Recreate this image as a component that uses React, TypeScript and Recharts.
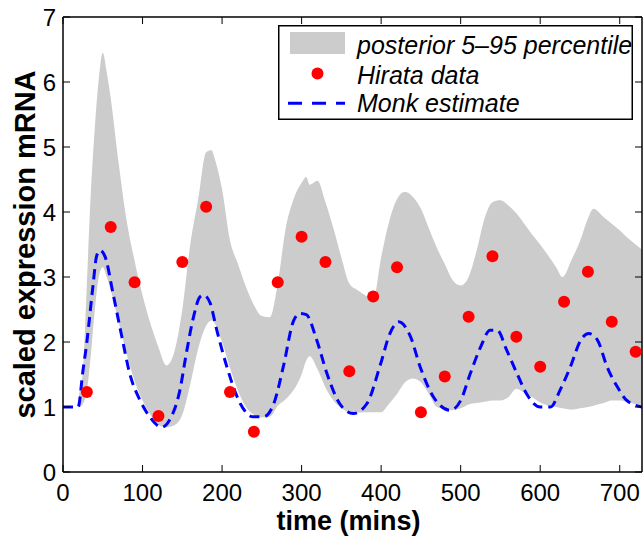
import React from 'react';
import {
    ComposedChart,
    Area,
    Line,
    Scatter,
    XAxis,
    YAxis,
    Legend,
    Label,
} from 'recharts';

const FONT = '"Liberation Sans", Arial, Helvetica, sans-serif';

const xTicks = [0, 100, 200, 300, 400, 500, 600, 700];
const yTicks = [0, 1, 2, 3, 4, 5, 6, 7];

// posterior 5-95 percentile band
const bandTime = [
    19, 20, 25, 30, 35, 40, 45, 50, 55, 60,
    70, 80, 90, 100, 110, 120, 130, 140, 150, 160,
    170, 180, 187, 190, 200, 210, 220, 230, 240, 250,
    260, 270, 280, 290, 300, 306, 310, 320, 330, 340,
    350, 360, 370, 380, 390, 400, 410, 420, 430, 440,
    450, 460, 470, 480, 490, 500, 510, 520, 530, 540,
    550, 560, 570, 580, 590, 600, 610, 620, 628, 640,
    650, 660, 667, 680, 690, 700, 710, 720, 728,
];
const bandLow = [
    1.0, 1.0, 1.05, 1.25, 1.8, 2.5, 3.0, 3.15, 3.0, 2.8,
    2.3, 1.82, 1.4, 1.1, 0.88, 0.72, 0.69, 0.72, 0.88, 1.35,
    1.9, 2.25, 2.33, 2.3, 2.0, 1.6, 1.25, 1.0, 0.88, 0.84,
    0.85, 1.02, 1.12, 1.26, 1.5, 1.72, 1.78, 1.58, 1.3, 1.1,
    0.98, 0.92, 0.91, 0.92, 0.92, 0.92, 1.05, 1.2, 1.38, 1.44,
    1.38, 1.2, 1.0, 0.97, 0.95, 0.98, 1.04, 1.06, 1.08, 1.1,
    1.1, 1.15, 1.28, 1.22, 1.15, 1.07, 1.02, 1.0, 0.98, 0.96,
    0.98, 1.0, 1.02, 1.06, 1.1, 1.1, 1.08, 1.04, 1.0,
];
const bandHigh = [
    1.0, 1.15, 1.55, 2.9, 4.3, 5.3, 6.05, 6.45, 6.15, 5.75,
    4.75, 3.87, 3.25, 2.72, 2.28, 1.92, 1.64, 1.85, 2.5, 3.5,
    4.2, 4.92, 4.95, 4.85, 4.35, 3.56, 3.2, 2.85, 2.57, 2.4,
    2.38, 2.9, 3.75, 4.2, 4.45, 4.54, 4.42, 4.48, 4.15, 3.75,
    3.3, 2.9, 2.8, 2.72, 2.65, 3.3, 3.85, 4.2, 4.31, 4.23,
    4.05, 3.75, 3.45, 3.2, 2.95, 2.87, 3.0, 3.4, 3.9, 4.15,
    4.18, 4.1, 3.98, 3.82, 3.65, 3.5, 3.33, 3.15, 3.0, 3.28,
    3.55, 3.9, 4.05, 3.92, 3.82, 3.72, 3.6, 3.5, 3.42,
];

// Monk estimate
const monkTime = [
    0, 19, 25, 30, 38, 42, 46, 50, 53, 63,
    74, 84, 97, 109, 124, 134, 147, 155, 164, 172,
    177, 185, 193, 206, 223, 239, 252, 265, 277, 290,
    298, 306, 319, 332, 348, 365, 382, 399, 411, 422,
    437, 449, 466, 487, 500, 512, 525, 537, 546, 558,
    571, 583, 600, 613, 625, 638, 651, 661, 672, 684,
    697, 709, 728,
];
const monkValue = [
    1.0, 1.0, 1.55, 2.0, 2.9, 3.31, 3.41, 3.38, 3.31, 2.74,
    2.08, 1.51, 1.1, 0.85, 0.69, 0.8, 1.26, 1.82, 2.38, 2.69,
    2.72, 2.6, 2.2, 1.62, 1.05, 0.85, 0.85, 1.05, 1.62, 2.33,
    2.44, 2.42, 2.03, 1.51, 1.05, 0.9, 1.05, 1.65, 2.13, 2.31,
    2.08, 1.62, 1.15, 0.95, 1.1, 1.51, 1.92, 2.18, 2.18, 1.87,
    1.51, 1.2, 1.0, 1.0, 1.26, 1.62, 2.03, 2.13, 2.03, 1.62,
    1.31, 1.1, 1.0,
];

// Hirata data
const hirataTime = [
    30, 60, 90, 120, 150, 180, 210, 240, 270, 300, 330, 360,
    390, 420, 450, 480, 510, 540, 570, 600, 630, 660, 690, 720,
];
const hirataValue = [
    1.23, 3.77, 2.92, 0.86, 3.23, 4.08, 1.23, 0.62, 2.92, 3.62, 3.23, 1.55,
    2.7, 3.15, 0.92, 1.47, 2.39, 3.32, 2.08, 1.62, 2.62, 3.08, 2.31, 1.85,
];

const bandData = bandTime.map((t, i) => ({ t, range: [bandLow[i], bandHigh[i]] }));
const monkData = monkTime.map((t, i) => ({ t, v: monkValue[i] }));
const hirataData = hirataTime.map((t, i) => ({ t, v: hirataValue[i] }));

const BottomTick = ({ x, y, payload }: any) => (
    <g>
        <line x1={x} y1={y} x2={x} y2={y - 7} stroke="#000" />
        <text x={x} y={y + 29} textAnchor="middle" fontSize={24} fontFamily={FONT} fill="#000">
            {payload.value}
        </text>
    </g>
);

const TopTick = ({ x, y }: any) => (
    <line x1={x} y1={y} x2={x} y2={y + 7} stroke="#000" />
);

const LeftTick = ({ x, y, payload }: any) => (
    <g>
        <line x1={x} y1={y} x2={x + 7} y2={y} stroke="#000" />
        <text x={x - 7} y={y + 8.6} textAnchor="end" fontSize={24} fontFamily={FONT} fill="#000">
            {payload.value}
        </text>
    </g>
);

const RightTick = ({ x, y }: any) => (
    <line x1={x} y1={y} x2={x - 7} y2={y} stroke="#000" />
);

const XTitle = ({ viewBox }: any) => (
    <text
        x={viewBox.x + viewBox.width / 2 - 4}
        y={viewBox.y + 58}
        textAnchor="middle"
        fontSize={27}
        fontWeight="bold"
        fontFamily={FONT}
        fill="#000"
    >
        time (mins)
    </text>
);

const YTitle = ({ viewBox }: any) => (
    <text
        transform={`translate(${viewBox.x + 35}, ${viewBox.y + viewBox.height / 2}) rotate(-90)`}
        textAnchor="middle"
        fontSize={29}
        fontWeight="bold"
        fontFamily={FONT}
        fill="#000"
    >
        scaled expression mRNA
    </text>
);

const renderLegend = () => (
    <svg width={355} height={95} style={{ display: 'block' }}>
        <rect x={0.75} y={0.75} width={353.5} height={93.5} fill="#fff" stroke="#000" strokeWidth={1.5} />
        <rect x={12} y={7} width={55} height={22} fill="#cccccc" />
        <circle cx={39.5} cy={48.5} r={6} fill="#ff0000" />
        <line x1={10} y1={78.3} x2={67} y2={78.3} stroke="#0000ff" strokeWidth={3} strokeDasharray="14 10" />
        <g fontFamily={FONT} fontSize={25} fontStyle="italic" fill="#000">
            <text x={79} y={28.5}>posterior 5–95 percentile</text>
            <text x={79} y={58.5}>Hirata data</text>
            <text x={79} y={86.7}>Monk estimate</text>
        </g>
    </svg>
);

const App: React.FC = () => (
    <div style={{ position: 'absolute', left: 0, top: 0, background: '#fff' }}>
        <ComposedChart width={643} height={538} margin={{ top: 0, right: 0, bottom: 0, left: 0 }}>
            <XAxis
                dataKey="t"
                type="number"
                domain={[0, 728]}
                ticks={xTicks}
                interval={0}
                allowDataOverflow
                height={66}
                tickSize={0}
                tickMargin={0}
                tickLine={false}
                tick={BottomTick}
                axisLine={{ stroke: '#000', strokeWidth: 1.5 }}
            >
                <Label content={XTitle} />
            </XAxis>
            <XAxis
                xAxisId="top"
                orientation="top"
                dataKey="t"
                type="number"
                domain={[0, 728]}
                ticks={xTicks}
                interval={0}
                allowDataOverflow
                height={17}
                tickSize={0}
                tickMargin={0}
                tickLine={false}
                tick={TopTick}
                axisLine={{ stroke: '#000', strokeWidth: 1.5 }}
            />
            <YAxis
                type="number"
                domain={[0, 7]}
                ticks={yTicks}
                interval={0}
                allowDataOverflow
                width={63}
                tickSize={0}
                tickMargin={0}
                tickLine={false}
                tick={LeftTick}
                axisLine={{ stroke: '#000', strokeWidth: 1.5 }}
            >
                <Label content={YTitle} />
            </YAxis>
            <YAxis
                yAxisId="right"
                orientation="right"
                type="number"
                domain={[0, 7]}
                ticks={yTicks}
                interval={0}
                allowDataOverflow
                width={1}
                tickSize={0}
                tickMargin={0}
                tickLine={false}
                tick={RightTick}
                axisLine={{ stroke: '#000', strokeWidth: 1.5 }}
            />
            <Area
                data={bandData}
                dataKey="range"
                type="monotone"
                stroke="none"
                fill="#cccccc"
                fillOpacity={1}
                isAnimationActive={false}
            />
            <Line
                data={monkData}
                dataKey="v"
                type="monotone"
                stroke="#0000ff"
                strokeWidth={3}
                strokeDasharray="10 6"
                dot={false}
                isAnimationActive={false}
            />
            <Scatter
                data={hirataData}
                dataKey="v"
                fill="#ff0000"
                shape={(p: any) => <circle cx={p.cx} cy={p.cy} r={6} fill="#ff0000" />}
                isAnimationActive={false}
            />
            <Legend
                layout="vertical"
                align="center"
                verticalAlign="middle"
                content={renderLegend}
                wrapperStyle={{ left: 278, top: 25, width: 355, height: 95 }}
            />
        </ComposedChart>
    </div>
);

export default App;
